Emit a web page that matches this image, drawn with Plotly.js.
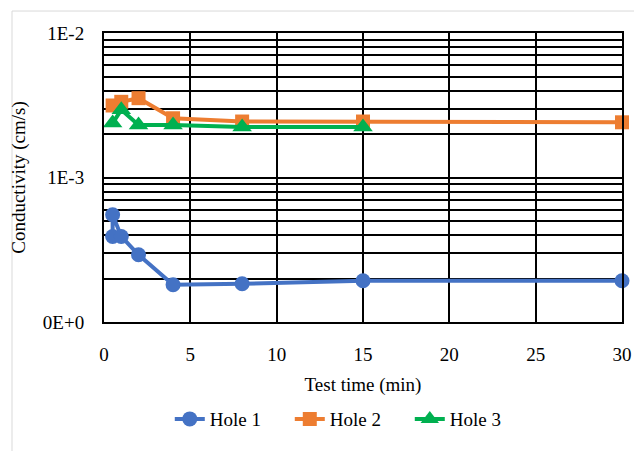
<!DOCTYPE html>
<html><head><meta charset="utf-8">
<script src="https://cdn.plot.ly/plotly-3.0.1.min.js"></script>
<style>html,body{margin:0;padding:0;background:#fff}#chart{width:634px;height:451px}</style>
</head><body><div id="chart"></div>
<script>
const hole1X = [0.5, 0.5, 1, 2, 4, 8, 15, 30];
const hole1Y = [3.91e-4, 5.52e-4, 3.91e-4, 2.92e-4, 1.81e-4, 1.84e-4, 1.93e-4, 1.93e-4];
const hole2X = [0.5, 1, 2, 4, 8, 15, 30];
const hole2Y = [3.15e-3, 3.34e-3, 3.54e-3, 2.57e-3, 2.44e-3, 2.44e-3, 2.41e-3];
const hole3X = [0.5, 1, 2, 4, 8, 15];
const hole3Y = [2.38e-3, 2.94e-3, 2.31e-3, 2.31e-3, 2.24e-3, 2.24e-3];
const seriesNames = ["Hole 1", "Hole 2", "Hole 3"];
const xTicks = [0, 5, 10, 15, 20, 25, 30];
const yDecades = [1e-4, 1e-3, 1e-2];
const yDecadeLabels = ["0E+0", "1E-3", "1E-2"];

const yTickVals = [], yTickText = [];
for (let d = 0; d < yDecades.length; d++) {
  const base = yDecades[d];
  yTickVals.push(base); yTickText.push(yDecadeLabels[d]);
  if (d < yDecades.length - 1) {
    for (let m = 2; m <= 9; m++) { yTickVals.push(base * m); yTickText.push(""); }
  }
}

const font = {family: "Liberation Serif", color: "#000", size: 19};
const colors = ["#4472C4", "#ED7D31", "#00B050"];
const symbols = ["circle", "square", "triangle-up"];
const sizes = [15, 14, 17];
const xs = [hole1X, hole2X, hole3X], ys = [hole1Y, hole2Y, hole3Y];
const traces = xs.map((x, i) => ({
  x: x, y: ys[i], name: seriesNames[i], type: "scatter", mode: "lines+markers",
  line: {color: colors[i], width: 4},
  marker: {color: colors[i], symbol: symbols[i], size: sizes[i]},
  cliponaxis: false
}));

const layout = {
  width: 634, height: 451,
  margin: {l: 104, r: 12, t: 33, b: 129},
  paper_bgcolor: "#fff", plot_bgcolor: "#fff",
  font: font,
  showlegend: true,
  legend: {orientation: "h", x: 0.127, xanchor: "left", y: -0.27, yanchor: "top", font: font,
           entrywidth: 75, entrywidthmode: "pixels", tracegroupgap: 0, bgcolor: "rgba(0,0,0,0)"},
  xaxis: {
    range: [0, 30], tickvals: xTicks, showgrid: true, gridcolor: "#000", gridwidth: 2,
    showline: true, linecolor: "#000", linewidth: 2, mirror: true, zeroline: false,
    ticks: "outside", ticklen: 14, tickcolor: "rgba(0,0,0,0)", tickfont: font,
    title: {text: "Test time (min)", font: font, standoff: 14}
  },
  yaxis: {
    type: "log", range: [-4, -2], tickvals: yTickVals, ticktext: yTickText,
    showgrid: true, gridcolor: "#000", gridwidth: 2,
    showline: true, linecolor: "#000", linewidth: 2, mirror: true, zeroline: false,
    ticks: "outside", ticklen: 14, tickcolor: "rgba(0,0,0,0)", tickfont: font,
    title: {text: "Conductivity (cm/s)", font: font, standoff: 12}
  },
  shapes: [{type: "rect", xref: "paper", yref: "paper", x0: -0.1776, x1: 1.2, y0: -0.6, y1: 1.076,
            line: {color: "#d9d9d9", width: 1}, fillcolor: "rgba(0,0,0,0)", layer: "below"}]
};
Plotly.newPlot("chart", traces, layout, {staticPlot: true, displayModeBar: false});
</script></body></html>
